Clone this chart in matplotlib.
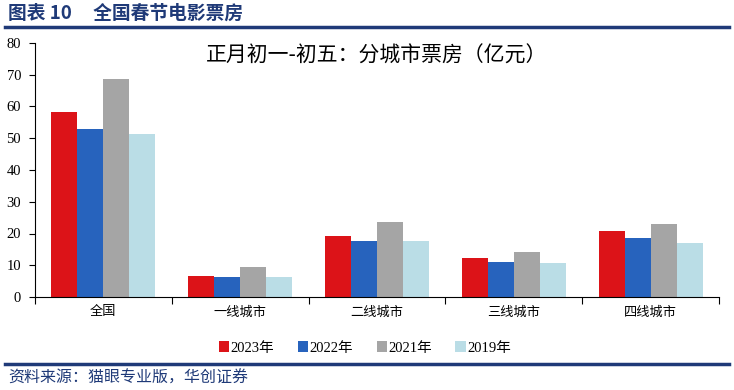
import matplotlib
matplotlib.use("Agg")
import matplotlib.pyplot as plt
import numpy as np

categories = ["全国", "一线城市", "二线城市", "三线城市", "四线城市"]
series_names = ["2023年", "2022年", "2021年", "2019年"]
v2023 = [58.3, 6.6, 19.2, 12.3, 20.8]
v2022 = [53.0, 6.3, 17.7, 11.0, 18.6]
v2021 = [68.8, 9.5, 23.7, 14.2, 23.0]
v2019 = [51.4, 6.3, 17.7, 10.7, 17.0]
colors = ["#DC1318", "#2763BD", "#A5A5A5", "#BADDE6"]
yticks = [0, 10, 20, 30, 40, 50, 60, 70, 80]

CJK = ["Noto Sans CJK SC", "DejaVu Sans"]
NUM = ["Liberation Serif", "Noto Sans CJK SC"]

fig = plt.figure(figsize=(7.34, 3.9), dpi=100)
ax = fig.add_axes([35/734, 1-297/390, (719-35)/734, (297-43)/390])

x = np.arange(len(categories))
w = 0.19
allv = [v2023, v2022, v2021, v2019]
for i, (vals, c, name) in enumerate(zip(allv, colors, series_names)):
    ax.bar(x + (i - 1.5) * w, vals, width=w, color=c, label=name, linewidth=0)

ax.set_xlim(-0.5, len(categories) - 0.5)
ax.set_ylim(0, 80)
ax.set_yticks(yticks)
ax.set_yticklabels([str(t) for t in yticks], family=NUM, fontsize=10.5)
ax.set_xticks(x)
ax.set_xticklabels(categories, family=CJK, fontsize=9.5)
ax.tick_params(axis='x', length=0, pad=6)
ax.set_xticks(np.arange(-0.5, len(categories), 1), minor=True)
ax.tick_params(axis='x', which='minor', length=5, direction='out', width=0.8)
ax.tick_params(axis='y', length=4, direction='out', width=0.8, pad=6)
for s in ["top", "right"]:
    ax.spines[s].set_visible(False)
for s in ["left", "bottom"]:
    ax.spines[s].set_linewidth(0.8)

ax.text(0.5, 0.95, "正月初一-初五：分城市票房（亿元）", transform=ax.transAxes,
        ha="center", va="center", fontsize=15, fontweight="medium", family=CJK)

leg = fig.legend(loc="center", bbox_to_anchor=(365/734, 1-348/390), ncol=4,
                 frameon=False, prop={"family": NUM, "size": 10.5},
                 handlelength=0.7, handleheight=0.7, handletextpad=0.1, columnspacing=1.6)

# header
fig.text(8/734, 1-13/390, "图表 10     全国春节电影票房", ha="left", va="center",
         fontsize=13.5, fontweight="bold", color="#1F3A78", family=CJK)
fig.add_artist(plt.Line2D([5/734, 729/734], [1-27/390, 1-27/390], color="#1F3A78", lw=2.5))
fig.add_artist(plt.Line2D([5/734, 729/734], [1-364/390, 1-364/390], color="#1F3A78", lw=2.5))
fig.text(8/734, 1-378/390, "资料来源：猫眼专业版，华创证券", ha="left", va="center",
         fontsize=11.5, style="italic", color="#1F3A78", family=CJK)

fig.savefig("out.png", dpi=100)
